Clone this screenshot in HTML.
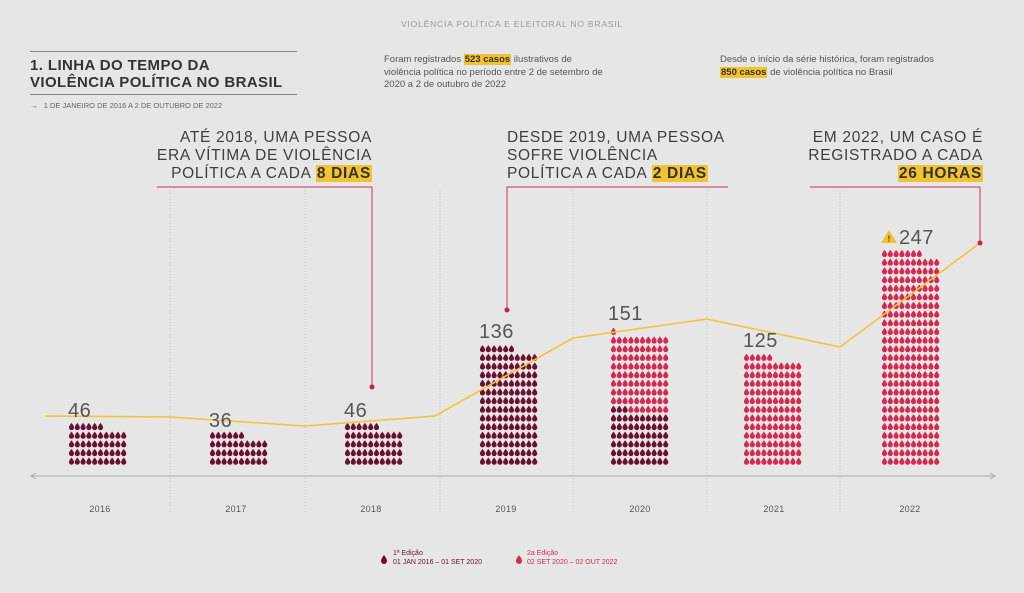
<!DOCTYPE html>
<html><head><meta charset="utf-8">
<style>
html,body{margin:0;padding:0;background:#e6e6e6;}
body{width:1024px;height:593px;position:relative;overflow:hidden;font-family:"Liberation Sans",sans-serif;color:#444;}
.a{position:absolute;white-space:nowrap;}
.hl{background:#f3c230;font-weight:bold;color:#333;padding:0 1px;}
.ann{font-size:15.5px;line-height:18px;letter-spacing:0.7px;color:#3e3e3e;}
.num{font-size:20px;color:#555;letter-spacing:0.5px;}
.yr{font-size:9px;color:#555;letter-spacing:0.3px;}
</style></head><body>
<div class="a" style="left:0;width:1024px;text-align:center;top:19px;font-size:8.5px;letter-spacing:0.8px;color:#9a9a9a;">VIOLÊNCIA POLÍTICA E ELEITORAL NO BRASIL</div>
<div class="a" style="left:30px;top:51px;width:267px;height:1px;background:#888;"></div>
<div class="a" style="left:30px;top:58px;font-size:15px;font-weight:bold;line-height:16.5px;color:#333;letter-spacing:0.4px;">1. LINHA DO TEMPO DA<br>VIOLÊNCIA POLÍTICA NO BRASIL</div>
<div class="a" style="left:30px;top:94px;width:267px;height:1px;background:#888;"></div>
<div class="a" style="left:30px;top:101px;font-size:7.5px;color:#666;">→&nbsp;&nbsp;&nbsp;1 DE JANEIRO DE 2016 A 2 DE OUTUBRO DE 2022</div>
<div class="a" style="left:384px;top:54px;font-size:9.5px;line-height:12.5px;color:#555;">Foram registrados <span class="hl">523 casos</span> ilustrativos de<br>violência política no período entre 2 de setembro de<br>2020 a 2 de outubro de 2022</div>
<div class="a" style="left:720px;top:54px;font-size:9.5px;line-height:12.5px;color:#555;">Desde o início da série histórica, foram registrados<br><span class="hl">850 casos</span> de violência política no Brasil</div>

<div class="a ann" style="right:652px;top:129px;text-align:right;">ATÉ 2018, UMA PESSOA<br>ERA VÍTIMA DE VIOLÊNCIA<br>POLÍTICA A CADA <span class="hl">8 DIAS</span></div>
<div class="a ann" style="left:507px;top:129px;">DESDE 2019, UMA PESSOA<br>SOFRE VIOLÊNCIA<br>POLÍTICA A CADA <span class="hl">2 DIAS</span></div>
<div class="a ann" style="right:41px;top:129px;text-align:right;">EM 2022, UM CASO É<br>REGISTRADO A CADA<br><span class="hl">26 HORAS</span></div>

<svg class="a" style="left:0;top:0" width="1024" height="593" id="s">
<g stroke="#c8c8c8" stroke-width="1" stroke-dasharray="1,2">
<line x1="170" y1="190" x2="170" y2="512"/><line x1="305" y1="190" x2="305" y2="512"/><line x1="440" y1="190" x2="440" y2="512"/>
<line x1="573" y1="190" x2="573" y2="512"/><line x1="707" y1="190" x2="707" y2="512"/><line x1="840" y1="190" x2="840" y2="512"/>
</g>
<line x1="32" y1="476" x2="994" y2="476" stroke="#aaa" stroke-width="1"/>
<path d="M36 473 L31 476 L36 479" fill="none" stroke="#aaa"/>
<path d="M990 473 L995 476 L990 479" fill="none" stroke="#aaa"/>
<g id="drops"></g>
<polyline points="45,416 170,417 305,426 435,416 573,338 707,319 840,347 980,243" fill="none" stroke="#f0c53a" stroke-width="1.6"/>
<g stroke="#c9374f" stroke-width="1" fill="none">
<polyline points="157,187 372,187 372,387"/>
<polyline points="728,187 507,187 507,310"/>
<polyline points="810,187 980,187 980,243"/>
</g>
<circle cx="372" cy="387" r="2.5" fill="#c9243f"/>
<circle cx="507" cy="310" r="2.5" fill="#c9243f"/>
<circle cx="980" cy="243" r="2.5" fill="#c9243f"/>
<path d="M889 230 L897 243 L881 243 Z" fill="#f3c230"/>
<text x="889" y="241.5" font-size="8" font-weight="bold" text-anchor="middle" fill="#333" font-family="Liberation Sans">!</text>
<g font-family="Liberation Sans" font-size="9" fill="#555" text-anchor="middle" letter-spacing="0.3">
<text x="100" y="512">2016</text><text x="236" y="512">2017</text><text x="371" y="512">2018</text><text x="506" y="512">2019</text><text x="640" y="512">2020</text><text x="774" y="512">2021</text><text x="910" y="512">2022</text>
</g>
<path d="M384 555 q-3 4 -3 6 a3 3 0 0 0 6 0 q0 -2 -3 -6z" fill="#6b1030"/>
<path d="M519 555 q-3 4 -3 6 a3 3 0 0 0 6 0 q0 -2 -3 -6z" fill="#d42a50"/>
</svg>
<div class="a num" style="left:68px;top:400px;">46</div>
<div class="a num" style="left:209px;top:410px;">36</div>
<div class="a num" style="left:344px;top:400px;">46</div>
<div class="a num" style="left:479px;top:321px;">136</div>
<div class="a num" style="left:608px;top:303px;">151</div>
<div class="a num" style="left:743px;top:330px;">125</div>
<div class="a num" style="left:899px;top:227px;">247</div>
<div class="a" style="left:393px;top:549px;font-size:7px;line-height:9px;color:#6b1030;">1ª Edição<br>01 JAN 2016 – 01 SET 2020</div>
<div class="a" style="left:527px;top:549px;font-size:7px;line-height:9px;color:#d42a50;">2a Edição<br>02 SET 2020 – 02 OUT 2022</div>
<script>
var data=[[69,46,46],[210,36,36],[345,46,46],[480,136,136],[611,151,63],[744,125,0],[882,247,0]];
var g=document.getElementById('drops'),h='';
data.forEach(function(d){
 for(var i=0;i<d[1];i++){
  var c=i%10,r=Math.floor(i/10);
  var x=d[0]+c*5.8+2.5,y=464-r*8.65;
  var col=i<d[2]?'#6b1030':'#d42a50';
  h+='<path d="M'+x.toFixed(1)+' '+(y-6.5).toFixed(1)+' q-2.6 3.2 -2.6 4.6 a2.6 2.6 0 0 0 5.2 0 q0 -1.4 -2.6 -4.6z" fill="'+col+'"/>';
 }
});
g.innerHTML=h;
</script>
</body></html>
